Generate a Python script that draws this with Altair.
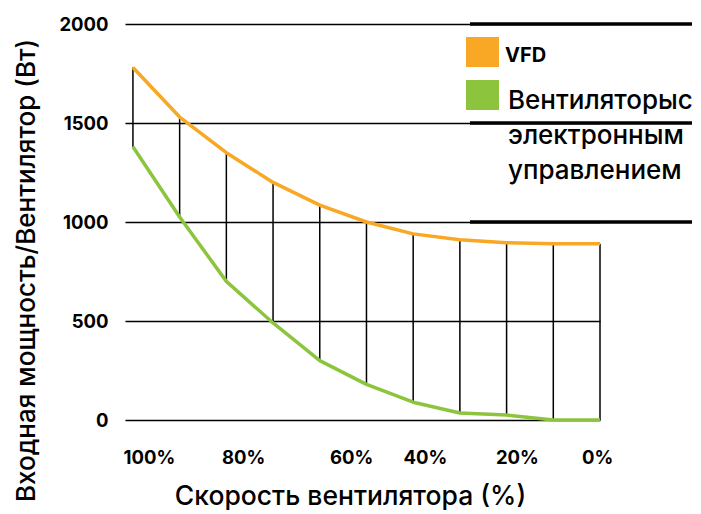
import altair as alt
import pandas as pd

# ---- data ----
speed = [100, 90, 80, 70, 60, 50, 40, 30, 20, 10, 0]
vfd = [1780, 1530, 1350, 1200, 1085, 1000, 940, 910, 895, 890, 890]
ec = [1380, 1025, 700, 490, 300, 180, 90, 35, 25, 0, 0]

series_names = ["VFD", "Вентиляторыс электронным управлением"]
series_colors = ["#F8A824", "#8DC43E"]

y_ticks = [0, 500, 1000, 1500, 2000]
x_tick_labels = ["100%", "80%", "60%", "40%", "20%", "0%"]
x_tick_positions = [96.6, 76.4, 53.3, 37.5, 17.8, 0.6]

legend_text_1 = ["VFD"]
legend_text_2 = ["Вентиляторыс", "электронным", "управлением"]
table_rows = [2000, 1500, 1000]

FONT = "Inter"

df = pd.DataFrame({"speed": speed, "vfd": vfd, "ec": ec})
long = pd.concat([
    pd.DataFrame({"speed": speed, "value": vfd, "series": series_names[0]}),
    pd.DataFrame({"speed": speed, "value": ec, "series": series_names[1]}),
])

xscale = alt.Scale(domain=[101.7, 0], nice=False, zero=False)
yscale = alt.Scale(domain=[0, 2000], nice=False)

label_expr = " : ".join(
    f"datum.value == {p} ? '{l}'" for p, l in zip(x_tick_positions, x_tick_labels)
) + " : ''"

xaxis = alt.Axis(
    values=x_tick_positions, labelExpr=label_expr, grid=False, domain=False,
    ticks=False, labelFlush=False, labelBound=False, labelOverlap=False,
    labelFont=FONT, labelFontWeight="bold", labelFontSize=18.5, labelColor="black",
    labelPadding=28,
    title="Скорость вентилятора (%)", titleFont=FONT, titleFontWeight=500,
    titleFontSize=26.5, titleColor="black", titleX=225, titleY=76,
    titleAlign="center", titleBaseline="middle",
)
yaxis = alt.Axis(
    values=y_ticks, format="d", grid=True, gridColor="black", gridWidth=1.5, gridOpacity=1,
    domain=False, ticks=False, labelFont=FONT, labelFontWeight="bold",
    labelFontSize=18.5, labelColor="black", labelPadding=17,
    title="Входная мощность/Вентилятор (Вт)", titleFont=FONT, titleFontWeight=500,
    titleFontSize=26, titleColor="black", titleAngle=270, titleAlign="center",
    titleBaseline="middle", titleX=-99, titleY=246,
)

rules = alt.Chart(df).mark_rule(color="black", strokeWidth=1.5).encode(
    x=alt.X("speed:Q", scale=xscale, axis=xaxis),
    y=alt.Y("vfd:Q", scale=yscale, axis=yaxis),
    y2="ec:Q",
)

lines = alt.Chart(long).mark_line(strokeWidth=3.5, strokeJoin="round").encode(
    x=alt.X("speed:Q", scale=xscale, axis=xaxis),
    y=alt.Y("value:Q", scale=yscale, axis=yaxis),
    color=alt.Color("series:N", scale=alt.Scale(domain=series_names, range=series_colors), legend=None),
)

table = alt.Chart(pd.DataFrame({"v": table_rows})).mark_rule(color="black", strokeWidth=3.5).encode(
    y=alt.Y("v:Q", scale=yscale, axis=yaxis),
    x=alt.value(345), x2=alt.value(572),
)

sq1 = alt.Chart(pd.DataFrame({"s": [series_names[0]]})).mark_rect(color=series_colors[0]).encode(
    x=alt.value(341), x2=alt.value(374), y=alt.value(13), y2=alt.value(43))
sq2 = alt.Chart(pd.DataFrame({"s": [series_names[1]]})).mark_rect(color=series_colors[1]).encode(
    x=alt.value(341), x2=alt.value(374), y=alt.value(56), y2=alt.value(86))

t1 = alt.Chart(pd.DataFrame({"t": legend_text_1})).mark_text(
    align="left", baseline="alphabetic", font=FONT, fontWeight="bold", fontSize=20, color="black"
).encode(x=alt.value(380), y=alt.value(38), text="t:N")

t2 = alt.Chart(pd.DataFrame({"t": [legend_text_2]})).mark_text(
    align="left", baseline="alphabetic", font=FONT, fontWeight=500, fontSize=26, color="black",
    lineHeight=35,
).encode(x=alt.value(383), y=alt.value(85), text="t")

chart = alt.layer(table, rules, lines, sq1, sq2, t1, t2).properties(
    width=475, height=396,
    padding={"left": 117, "top": 16, "right": 92, "bottom": 90},
    autosize=alt.AutoSizeParams(type="none"),
    background="white",
).configure_view(stroke=None)

chart.save("out.html", embed_options={"renderer": "svg", "actions": False})
